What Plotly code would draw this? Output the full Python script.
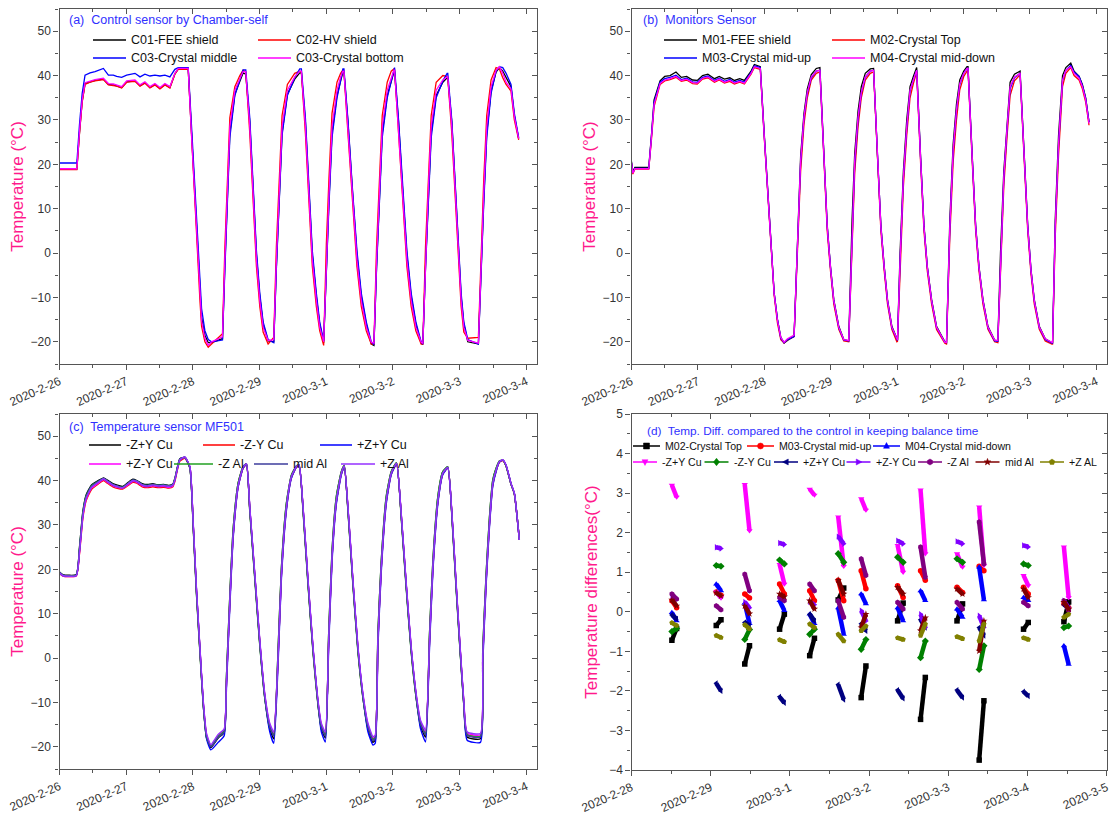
import math
import pandas as pd
import plotly.graph_objects as go

W, H = 1110, 816
FONT = "Liberation Sans, Arial, Helvetica, sans-serif"
AX = "#555555"
PINK = "#ff1a8c"
TBLUE = "#3030ff"

BASE_A = pd.Timestamp("2020-02-26")
BASE_D = pd.Timestamp("2020-02-28")

# ---------------- panel (a): control sensors (days after 2020-02-26) ----------------
A_T = [0.00, 0.26, 0.30, 0.34, 0.383, 0.458, 0.533, 0.658, 0.733, 0.807, 0.857, 0.932,
       1.007, 1.132, 1.207, 1.281, 1.356, 1.431, 1.506, 1.581, 1.655, 1.73, 1.78, 1.93,
       1.98, 2.03, 2.08, 2.105, 2.13, 2.18, 2.23, 2.28, 2.444,
       2.479, 2.514, 2.554, 2.629, 2.704, 2.753, 2.793,
       2.853, 2.903, 2.953, 3.003, 3.053, 3.128, 3.213,
       3.252, 3.292, 3.337, 3.417, 3.527, 3.602, 3.627,
       3.687, 3.736, 3.791, 3.851, 3.901, 3.961,
       4.001, 4.041, 4.086, 4.161, 4.215, 4.250, 4.265,
       4.325, 4.390, 4.460, 4.525, 4.600, 4.675, 4.715,
       4.754, 4.794, 4.839, 4.914, 4.974, 5.014, 5.024,
       5.084, 5.144, 5.209, 5.273, 5.343, 5.423, 5.448,
       5.488, 5.528, 5.573, 5.648, 5.748, 5.812, 5.822,
       5.882, 5.932, 5.982, 6.022, 6.062, 6.122, 6.281,
       6.321, 6.361, 6.406, 6.471, 6.546, 6.596, 6.646, 6.696, 6.770, 6.820, 6.885]

A_C01 = [18.9, 18.9, 27.2, 34.2, 38.2, 38.6, 38.9, 39.2, 38.0, 37.9, 37.7, 37.3,
         38.6, 38.8, 37.7, 38.4, 37.3, 38.0, 37.1, 38.0, 37.3, 40.4, 41.5, 41.5,
         27.0, 13.0, -1.0, -8.0, -14.5, -18.5, -20.2, -20.2, -19.3,
         -3.0, 11.5, 27.0, 35.8, 38.8, 40.6, 40.3,
         29.5, 14.5, -0.5, -9.8, -16.0, -19.8, -20.0,
         -3.0, 12.0, 27.0, 35.8, 39.2, 40.6, 40.6,
         29.5, 14.5, -0.5, -9.8, -16.0, -20.2,
         -3.0, 12.0, 27.0, 35.5, 38.8, 40.8, 40.8,
         29.5, 14.5, -0.5, -9.8, -16.0, -20.5, -20.8,
         -3.0, 12.0, 27.0, 35.5, 39.0, 40.8, 40.8,
         29.5, 14.5, -0.5, -9.8, -16.0, -20.3, -20.6,
         -3.0, 12.0, 27.0, 35.5, 38.5, 39.5, 39.5,
         29.5, 14.5, -0.5, -9.8, -16.0, -20.0, -20.5,
         -3.0, 12.0, 27.0, 36.5, 40.8, 41.8, 41.0, 39.5, 37.5, 31.0, 25.8]

A_C02 = [18.8, 18.8, 27.0, 34.0, 38.0, 38.5, 38.8, 39.1, 37.9, 37.8, 37.6, 37.2,
         38.5, 38.7, 37.6, 38.3, 37.2, 37.9, 37.0, 37.9, 37.2, 40.3, 41.4, 41.4,
         25.5, 11.0, -3.0, -10.5, -16.5, -20.0, -21.2, -20.5, -18.2,
         1.0, 16.0, 30.5, 37.5, 40.0, 41.2, 40.8,
         27.0, 12.0, -3.0, -12.0, -17.8, -20.5, -19.0,
         1.5, 16.5, 31.0, 38.0, 40.5, 41.0, 40.8,
         27.0, 12.0, -3.0, -12.0, -17.5, -20.8,
         2.0, 17.0, 31.5, 38.5, 40.5, 41.3, 41.0,
         27.0, 12.0, -3.0, -12.0, -17.5, -20.5, -20.5,
         1.5, 16.5, 31.0, 38.5, 41.0, 41.5, 41.3,
         27.0, 12.0, -3.0, -12.0, -17.5, -20.5, -20.5,
         1.5, 16.5, 31.0, 38.5, 40.0, 39.8, 39.6,
         27.0, 12.0, -3.0, -12.0, -17.8, -19.2, -19.0,
         1.5, 16.5, 31.0, 39.0, 41.8, 41.5, 39.5, 38.0, 36.5, 30.0, 25.5]

A_C03M = [20.3, 20.3, 29.0, 36.0, 40.1, 40.6, 40.9, 41.6, 40.1, 40.1, 39.8, 39.6,
          40.1, 40.5, 39.7, 40.3, 39.9, 40.1, 39.9, 40.1, 39.7, 41.4, 41.8, 41.8,
          28.5, 15.0, 1.0, -6.0, -12.5, -17.5, -19.5, -20.0, -19.6,
          -4.0, 10.5, 26.0, 35.5, 38.8, 41.3, 41.3,
          30.5, 15.5, 0.5, -9.0, -15.5, -19.5, -20.2,
          -3.5, 11.0, 26.5, 35.5, 39.5, 41.5, 41.5,
          30.5, 15.5, 0.5, -9.0, -15.5, -19.8,
          -3.5, 11.0, 26.0, 35.0, 38.8, 41.5, 41.5,
          30.0, 15.0, 0.5, -9.0, -15.5, -20.0, -20.6,
          -3.5, 11.0, 26.0, 35.0, 38.8, 41.8, 41.8,
          30.0, 15.0, 0.5, -9.0, -15.5, -20.0, -20.5,
          -3.5, 11.0, 26.0, 35.0, 38.8, 40.5, 40.5,
          30.0, 15.0, 0.5, -9.0, -15.5, -19.5, -20.5,
          -3.5, 11.0, 26.0, 36.0, 41.0, 42.0, 41.8, 40.5, 38.0, 31.5, 26.0]

A_C03B = [19.0, 19.0, 27.5, 34.5, 38.4, 38.8, 39.1, 39.4, 38.2, 38.1, 37.9, 37.5,
          38.8, 39.0, 37.9, 38.6, 37.5, 38.2, 37.3, 38.2, 37.5, 40.5, 41.6, 41.6,
          26.3, 12.1, -2.1, -9.2, -15.2, -19.2, -20.8, -20.0, -18.9,
          -1.6, 13.4, 28.5, 36.7, 39.4, 40.9, 40.9,
          28.5, 13.4, -1.6, -10.7, -16.7, -19.7, -19.5,
          -1.6, 13.4, 28.5, 36.7, 39.7, 41.0, 41.0,
          28.5, 13.4, -1.6, -10.7, -16.7, -20.0,
          -1.6, 13.4, 28.5, 36.7, 39.7, 41.0, 41.0,
          28.5, 13.4, -1.6, -10.7, -16.7, -20.1, -20.3,
          -1.6, 13.4, 28.5, 36.7, 39.7, 41.2, 41.2,
          28.5, 13.4, -1.6, -10.7, -16.7, -20.1, -20.3,
          -1.6, 13.4, 28.5, 36.7, 39.0, 39.8, 39.8,
          28.5, 13.4, -1.6, -10.7, -16.7, -19.7, -20.3,
          -1.6, 13.4, 28.5, 37.5, 41.2, 42.0, 40.5, 38.5, 37.0, 30.7, 25.8]

# ---------------- panel (b): monitor sensors ----------------
B_T = [0.00, 0.02, 0.05, 0.26, 0.30, 0.34, 0.43, 0.50, 0.58, 0.67, 0.75, 0.83, 0.92,
       0.99, 1.07, 1.15, 1.25, 1.32, 1.40, 1.48, 1.55, 1.63, 1.70, 1.80, 1.85,
       1.939, 1.999, 2.073, 2.123, 2.148, 2.198, 2.248, 2.298, 2.348, 2.448,
       2.508, 2.547, 2.597, 2.647, 2.707, 2.782, 2.837,
       2.897, 2.947, 2.996, 3.046, 3.121, 3.196, 3.271,
       3.321, 3.361, 3.411, 3.460, 3.520, 3.595, 3.645,
       3.705, 3.755, 3.805, 3.855, 3.920, 3.995,
       4.005, 4.044, 4.094, 4.144, 4.194, 4.244, 4.284, 4.294,
       4.354, 4.404, 4.454, 4.519, 4.593, 4.718, 4.743,
       4.793, 4.843, 4.893, 4.943, 5.003, 5.052, 5.067,
       5.132, 5.182, 5.232, 5.292, 5.367, 5.467, 5.516,
       5.556, 5.606, 5.656, 5.701, 5.766, 5.841, 5.851,
       5.916, 5.966, 6.015, 6.065, 6.140, 6.230, 6.330,
       6.340, 6.380, 6.430, 6.490, 6.540, 6.614, 6.664, 6.739, 6.789, 6.839, 6.889]

B_M01 = [20.6, 18.3, 19.3, 19.3, 26.5, 34.5, 38.8, 39.8, 40.0, 40.8, 39.6, 39.8, 39.0,
         38.9, 40.0, 40.3, 39.3, 39.8, 39.2, 39.5, 38.9, 39.3, 38.9, 41.0, 42.5,
         42.0, 26.8, 7.8, -5.0, -9.0, -15.0, -19.0, -20.3, -19.7, -18.8,
         7.0, 22.0, 31.5, 37.0, 40.2, 41.6, 41.8,
         21.5, 6.3, -3.0, -10.5, -16.5, -19.5, -19.8,
         7.5, 22.5, 32.0, 37.5, 40.5, 41.5, 41.6,
         21.5, 6.3, -3.0, -10.5, -16.5, -19.6,
         -19.6, 0.0, 18.5, 30.0, 37.5, 39.8, 41.8, 41.8,
         21.5, 6.3, -3.0, -10.5, -16.5, -20.0, -20.2,
         7.5, 24.5, 33.5, 39.0, 41.0, 42.0, 42.0,
         21.5, 6.3, -3.0, -10.5, -16.5, -19.6, -19.8,
         0.0, 18.5, 30.0, 38.5, 40.3, 41.0, 41.0,
         21.5, 6.3, -3.7, -10.5, -16.5, -19.3, -20.2,
         -20.2, 7.5, 26.5, 40.0, 41.8, 42.8, 41.0, 39.8, 38.0, 35.0, 29.5]

B_M02 = [20.2, 17.8, 18.9, 18.9, 25.5, 33.0, 38.0, 38.8, 39.1, 39.6, 38.7, 39.0, 38.2,
         38.1, 39.2, 39.5, 38.5, 39.0, 38.3, 38.7, 38.1, 38.5, 38.1, 40.3, 41.8,
         41.4, 26.0, 7.0, -5.5, -9.5, -15.8, -19.5, -20.3, -19.5, -18.8,
         3.5, 18.5, 29.0, 35.0, 39.0, 40.5, 40.8,
         20.0, 5.0, -4.0, -11.5, -17.2, -19.8, -20.0,
         3.0, 18.0, 28.5, 35.0, 39.0, 40.5, 40.8,
         20.0, 5.0, -4.0, -11.5, -17.2, -20.0,
         -19.9, -3.5, 15.0, 26.5, 35.0, 38.2, 40.5, 40.8,
         20.0, 5.0, -4.0, -11.5, -17.2, -20.3, -20.5,
         3.5, 20.5, 30.0, 36.8, 39.8, 41.0, 41.2,
         20.0, 5.0, -4.0, -11.5, -17.2, -20.0, -20.2,
         -3.5, 15.0, 26.5, 35.5, 38.8, 40.0, 40.2,
         20.0, 5.0, -4.7, -11.5, -17.2, -19.8, -20.5,
         -20.5, 3.5, 22.0, 37.5, 40.5, 41.8, 40.0, 39.0, 37.0, 34.0, 28.8]

B_M03 = [20.4, 18.1, 19.1, 19.1, 26.2, 34.0, 38.5, 39.3, 39.6, 40.1, 39.1, 39.4, 38.6,
         38.5, 39.6, 39.9, 38.9, 39.4, 38.7, 39.1, 38.5, 38.9, 38.5, 40.7, 42.2,
         41.8, 26.5, 7.5, -5.2, -9.0, -15.0, -19.2, -20.2, -19.5, -18.8,
         5.5, 20.5, 30.5, 36.0, 39.5, 41.0, 41.2,
         21.0, 6.0, -3.2, -10.8, -16.8, -19.6, -19.8,
         5.0, 20.0, 30.0, 36.0, 39.6, 41.0, 41.2,
         21.0, 6.0, -3.2, -10.8, -16.8, -19.7,
         -19.7, -2.0, 16.8, 28.0, 36.5, 39.0, 41.2, 41.2,
         21.0, 6.0, -3.2, -10.8, -16.8, -20.1, -20.2,
         5.5, 22.8, 32.0, 38.0, 40.5, 41.6, 41.6,
         21.0, 6.0, -3.2, -10.8, -16.8, -19.8, -19.9,
         -2.0, 16.8, 28.0, 37.0, 39.5, 40.5, 40.5,
         21.0, 6.0, -3.9, -10.8, -16.8, -19.5, -20.3,
         -20.3, 5.5, 24.2, 38.8, 41.2, 42.3, 40.8, 39.8, 37.8, 34.8, 29.5]

B_M04 = [20.3, 18.0, 19.0, 19.0, 26.0, 33.5, 38.2, 39.0, 39.3, 39.8, 38.9, 39.2, 38.4,
         38.3, 39.4, 39.7, 38.7, 39.2, 38.5, 38.9, 38.3, 38.7, 38.3, 40.5, 42.0,
         41.6, 26.3, 7.3, -5.4, -9.2, -15.2, -19.0, -20.1, -19.3, -18.5,
         5.9, 20.9, 30.7, 36.2, 39.7, 41.0, 41.2,
         20.9, 5.9, -3.2, -10.7, -16.7, -19.5, -19.7,
         5.9, 20.9, 30.7, 36.2, 39.7, 41.0, 41.2,
         20.9, 5.9, -3.2, -10.7, -16.7, -19.6,
         -19.6, -1.6, 17.2, 28.5, 36.7, 39.0, 41.2, 41.2,
         20.9, 5.9, -3.2, -10.7, -16.7, -20.1, -20.1,
         5.9, 23.2, 32.2, 38.2, 40.5, 41.6, 41.6,
         20.9, 5.9, -3.2, -10.7, -16.7, -19.6, -19.7,
         -1.6, 17.2, 28.5, 37.5, 39.7, 40.5, 40.5,
         20.9, 5.9, -3.9, -10.7, -16.7, -19.3, -20.1,
         -20.1, 5.9, 24.7, 39.0, 41.2, 42.0, 40.5, 39.4, 37.5, 34.5, 29.2]

# ---------------- panel (c): MF501 sensors ----------------
C_T = [0.00, 0.05, 0.25, 0.30, 0.35, 0.40, 0.48, 0.58, 0.66, 0.72, 0.80, 0.88, 0.95,
       1.03, 1.10, 1.16, 1.24, 1.32, 1.40, 1.48, 1.56, 1.64, 1.70, 1.73, 1.805, 1.88,
       1.955, 2.005, 2.055, 2.105, 2.155, 2.205, 2.270, 2.379, 2.469,
       2.504, 2.554, 2.604, 2.679, 2.753, 2.803,
       2.853, 2.928, 3.003, 3.078, 3.153, 3.212,
       3.277, 3.327, 3.402, 3.477, 3.552, 3.592,
       3.652, 3.727, 3.801, 3.876, 3.926, 3.986,
       4.036, 4.086, 4.151, 4.226, 4.270,
       4.325, 4.400, 4.475, 4.550, 4.625, 4.700, 4.734,
       4.774, 4.824, 4.899, 4.974, 5.054,
       5.124, 5.199, 5.273, 5.348, 5.413, 5.488,
       5.548, 5.598, 5.673, 5.747, 5.822,
       5.887, 5.947, 6.007, 6.062, 6.112, 6.311,
       6.346, 6.396, 6.446, 6.496, 6.546, 6.596, 6.646, 6.696, 6.770, 6.820, 6.895]

C_mZpY_Cu = [19.4, 18.8, 18.8, 25.0, 33.0, 36.8, 39.0, 40.0, 40.6, 40.1, 39.3, 38.9, 38.7,
             39.6, 40.3, 40.0, 39.3, 39.1, 39.3, 39.0, 39.1, 38.9, 39.2, 40.5, 44.9, 45.2,
             42.8, 29.5, 14.3, 1.6, -10.5, -18.0, -20.2, -18.0, -16.8,
             -4.0, 14.0, 29.0, 39.5, 43.2, 43.8,
             33.3, 18.1, 3.1, -9.0, -16.0, -18.2,
             1.5, 20.1, 34.8, 41.2, 43.3, 43.5,
             33.3, 16.6, 1.6, -10.5, -16.0, -18.0,
             5.3, 23.9, 36.3, 42.0, 43.4,
             33.3, 16.6, 1.6, -9.0, -16.0, -19.0, -18.5,
             5.3, 21.6, 36.3, 42.0, 44.0,
             31.8, 15.9, 1.6, -9.0, -15.3, -17.8,
             5.3, 21.6, 36.3, 42.0, 43.1,
             31.1, 15.9, 1.6, -10.5, -17.8, -18.2,
             1.5, 18.6, 31.4, 40.0, 42.7, 44.4, 44.6, 43.3, 39.2, 37.0, 26.8]

C_mZmY_Cu = [19.0, 18.5, 18.5, 23.5, 31.5, 35.5, 38.0, 39.2, 40.0, 39.4, 38.6, 38.2, 38.1,
             38.9, 39.6, 39.4, 38.6, 38.4, 38.6, 38.4, 38.5, 38.3, 38.6, 39.8, 44.4, 45.0,
             43.0, 30.0, 14.8, 2.1, -10.0, -17.5, -19.9, -17.6, -16.4,
             -5.5, 12.5, 27.5, 38.7, 42.8, 43.6,
             33.7, 18.6, 3.6, -8.5, -15.3, -17.3,
             -0.2, 18.6, 33.7, 40.7, 43.0, 43.3,
             33.7, 17.1, 2.1, -10.0, -15.3, -17.2,
             3.6, 22.4, 35.2, 41.5, 43.1,
             33.7, 17.1, 2.1, -8.5, -15.3, -18.3, -17.9,
             3.6, 20.1, 35.2, 41.5, 43.7,
             32.2, 16.4, 2.1, -8.5, -14.6, -17.0,
             3.6, 20.1, 35.2, 41.5, 42.8,
             31.5, 16.4, 2.1, -10.0, -17.2, -17.6,
             -0.2, 17.1, 30.0, 39.0, 42.2, 44.1, 44.5, 43.3, 39.2, 37.0, 26.6]

C_pZpY_Cu = [19.3, 18.7, 18.7, 24.5, 32.5, 36.5, 38.8, 39.8, 40.5, 39.9, 39.1, 38.7, 38.5,
             39.4, 40.1, 39.9, 39.1, 38.9, 39.1, 38.9, 39.0, 38.8, 39.1, 40.3, 44.8, 45.2,
             43.0, 30.0, 14.8, 2.0, -10.2, -18.2, -20.7, -19.0, -17.5,
             -6.5, 11.5, 27.0, 38.5, 42.8, 43.7,
             33.7, 18.5, 3.4, -8.8, -16.6, -19.2,
             -1.5, 17.8, 33.2, 40.5, 43.0, 43.4,
             33.7, 17.0, 1.9, -10.3, -16.6, -18.9,
             2.3, 21.6, 34.7, 41.3, 43.1,
             33.7, 17.0, 1.9, -8.8, -16.6, -19.6, -19.2,
             2.3, 19.3, 34.7, 41.3, 43.7,
             32.2, 16.3, 1.9, -8.8, -15.9, -18.9,
             2.3, 19.3, 34.7, 41.3, 42.8,
             31.5, 16.3, 1.9, -10.3, -18.5, -19.0,
             -1.5, 16.3, 29.3, 38.7, 42.0, 44.2, 44.6, 43.4, 39.3, 37.1, 26.6]

C_pZmY_Cu = [19.1, 18.5, 18.5, 23.8, 31.8, 35.8, 38.3, 39.4, 40.2, 39.6, 38.8, 38.4, 38.3,
             39.1, 39.8, 39.6, 38.8, 38.6, 38.8, 38.6, 38.7, 38.5, 38.8, 40.0, 44.6, 45.2,
             43.1, 30.2, 15.0, 2.3, -9.8, -17.3, -19.7, -17.4, -16.2,
             -5.2, 12.8, 27.8, 38.8, 42.9, 43.7,
             33.9, 18.8, 3.8, -8.3, -15.0, -17.0,
             0.1, 18.9, 33.9, 40.8, 43.1, 43.4,
             33.9, 17.3, 2.3, -9.8, -15.0, -17.0,
             3.9, 22.7, 35.4, 41.6, 43.2,
             33.9, 17.3, 2.3, -8.3, -15.0, -18.0, -17.6,
             3.9, 20.4, 35.4, 41.6, 43.8,
             32.4, 16.6, 2.3, -8.3, -14.3, -16.6,
             3.9, 20.4, 35.4, 41.6, 42.9,
             31.7, 16.6, 2.3, -9.8, -16.9, -17.3,
             0.1, 17.4, 30.2, 39.2, 42.3, 44.2, 44.6, 43.4, 39.3, 37.1, 26.6]

C_mZ_Al = [19.3, 18.7, 18.7, 24.8, 32.8, 36.5, 38.8, 39.8, 40.5, 39.9, 39.1, 38.7, 38.5,
           39.4, 40.1, 39.9, 39.1, 38.9, 39.1, 38.9, 39.0, 38.8, 39.1, 40.4, 44.8, 45.2,
           42.8, 29.3, 14.0, 1.3, -10.6, -17.8, -19.9, -17.6, -16.4,
           -3.8, 14.2, 29.2, 39.5, 43.1, 43.8,
           33.0, 17.8, 2.8, -9.0, -15.5, -17.3,
           1.7, 20.3, 35.0, 41.2, 43.3, 43.5,
           33.0, 16.3, 1.3, -10.5, -15.5, -17.3,
           5.5, 24.1, 36.5, 42.0, 43.4,
           33.0, 16.3, 1.3, -9.0, -15.5, -18.3, -17.9,
           5.5, 21.8, 36.5, 42.0, 44.0,
           31.5, 15.6, 1.3, -9.0, -14.8, -17.0,
           5.5, 21.8, 36.5, 42.0, 43.1,
           30.8, 15.6, 1.3, -10.5, -17.2, -17.6,
           1.7, 18.8, 31.6, 40.1, 42.8, 44.4, 44.6, 43.3, 39.2, 37.0, 26.8]

C_mid_Al = [19.2, 18.6, 18.6, 24.2, 32.2, 36.2, 38.6, 39.7, 40.4, 39.8, 39.0, 38.6, 38.4,
            39.3, 40.0, 39.8, 39.0, 38.8, 39.0, 38.8, 38.9, 38.7, 39.0, 40.2, 44.7, 45.3,
            43.0, 30.0, 15.0, 2.3, -10.0, -17.6, -20.0, -17.9, -16.7,
            -5.5, 12.5, 27.6, 38.8, 42.9, 43.7,
            33.8, 18.7, 3.7, -8.5, -15.5, -17.6,
            -0.3, 18.6, 33.7, 40.7, 43.1, 43.4,
            33.8, 17.2, 2.2, -10.0, -15.5, -17.6,
            3.5, 22.4, 35.2, 41.5, 43.2,
            33.8, 17.2, 2.2, -8.5, -15.5, -18.6, -18.1,
            3.5, 20.1, 35.2, 41.5, 43.8,
            32.3, 16.5, 2.2, -8.5, -14.8, -17.3,
            3.5, 20.1, 35.2, 41.5, 42.9,
            31.6, 16.5, 2.2, -10.0, -17.4, -17.8,
            -0.3, 17.1, 30.0, 39.0, 42.2, 44.2, 44.6, 43.4, 39.3, 37.1, 26.6]

C_pZ_Al = [19.2, 18.6, 18.6, 24.0, 32.0, 36.0, 38.5, 39.6, 40.4, 39.8, 39.0, 38.6, 38.4,
           39.3, 40.0, 39.8, 39.0, 38.8, 39.0, 38.8, 38.9, 38.7, 39.0, 40.2, 44.7, 45.3,
           43.2, 30.4, 15.3, 2.6, -9.5, -17.0, -19.5, -17.2, -16.0,
           -5.0, 13.0, 28.0, 39.0, 43.0, 43.8,
           34.1, 19.1, 4.1, -8.0, -14.7, -16.6,
           0.3, 19.1, 34.1, 40.9, 43.2, 43.5,
           34.1, 17.6, 2.6, -9.5, -14.7, -16.6,
           4.1, 22.9, 35.6, 41.7, 43.3,
           34.1, 17.6, 2.6, -8.0, -14.7, -17.7, -17.4,
           4.1, 20.6, 35.6, 41.7, 43.9,
           32.6, 16.9, 2.6, -8.0, -14.0, -16.2,
           4.1, 20.6, 35.6, 41.7, 43.0,
           31.9, 16.9, 2.6, -9.5, -16.6, -17.0,
           0.3, 17.6, 30.4, 39.4, 42.4, 44.3, 44.7, 43.5, 39.4, 37.2, 26.6]

# ---------------- panel (d): differences in balance windows (days after 2020-02-28) ----------------
D_START = [0.51, 1.07, 1.43, 1.87, 2.25, 2.61, 2.90, 3.36, 3.65, 4.11, 4.39, 4.95, 5.46]
D_END = [0.57, 1.13, 1.49, 1.93, 2.31, 2.68, 2.96, 3.43, 3.71, 4.18, 4.45, 5.01, 5.52]

D_M02_S = [-0.72, -0.35, -1.32, -0.44, -1.11, 0.30, -2.17, -0.23, -2.72, -0.23, -3.75, -0.44, -0.25]
D_M02_E = [-0.42, -0.20, -0.86, -0.06, -0.67, 0.60, -1.37, 0.22, -1.66, 0.20, -2.25, -0.27, 0.25]
D_M03_S = [0.28, 0.50, 0.45, 0.70, 0.53, 0.80, 1.04, 0.66, 1.04, 0.62, 1.15, 0.62, 0.20]
D_M03_E = [0.10, 0.42, 0.35, 0.45, 0.28, 0.28, 0.58, 0.36, 0.80, 0.49, 1.04, 0.45, 0.10]
D_M04_S = [-0.02, 0.70, 0.22, 0.28, -0.06, 0.10, 0.45, 0.10, 0.53, 0.07, 1.13, 0.36, -0.86]
D_M04_E = [-0.23, 0.53, -0.30, 0.03, -0.30, -0.57, 0.20, -0.23, 0.28, -0.14, 0.30, 0.28, -1.33]
D_mZpY_S = [3.20, 0.50, 3.22, 1.20, 3.10, 2.40, 2.86, 1.68, 3.08, 1.47, 2.65, 0.92, 1.64]
D_mZpY_E = [2.90, 0.35, 2.05, 0.70, 2.95, 1.15, 2.57, 1.00, 1.47, 1.13, 1.17, 0.66, 0.36]
D_mZmY_S = [-0.50, 1.17, -0.70, 1.31, -0.57, 1.47, -0.95, 1.38, -1.16, 1.34, -1.46, 1.21, -0.40]
D_mZmY_E = [-0.42, 1.15, -0.45, 1.21, -0.44, 1.25, -0.70, 1.25, -0.74, 1.25, -0.86, 1.17, -0.36]
D_pZpY_S = [-0.08, -1.81, -0.27, -2.15, -0.06, -1.84, -0.30, -1.98, -0.20, -1.98, -0.40, -2.02, 0.18]
D_pZpY_E = [-0.18, -2.00, -0.35, -2.30, -0.23, -2.22, -0.48, -2.19, -0.40, -2.17, -0.60, -2.13, 0.10]
D_pZmY_S = [0.38, 1.63, 0.25, 1.74, 0.25, 1.90, 0.03, 1.80, -0.06, 1.78, -0.10, 1.68, 0.28]
D_pZmY_E = [0.32, 1.60, 0.10, 1.70, 0.18, 1.72, -0.23, 1.72, -0.40, 1.72, -0.40, 1.64, 0.10]
D_mZAl_S = [0.45, 0.15, 0.95, 0.36, 0.70, 0.28, 1.34, 0.24, 1.64, 0.24, 2.27, 0.24, 0.28]
D_mZAl_E = [0.32, 0.05, 0.53, 0.28, 0.53, -0.14, 0.92, 0.07, 0.87, 0.07, 1.21, 0.15, 0.03]
D_midAl_S = [0.30, 0.48, 0.15, 0.45, 0.28, 0.80, -0.40, 0.62, -0.48, 0.58, -0.99, 0.58, 0.24]
D_midAl_E = [0.15, 0.40, -0.05, 0.38, 0.07, 0.45, -0.06, 0.45, -0.15, 0.45, -0.23, 0.36, 0.07]
D_pZAl_S = [-0.28, -0.60, -0.33, -0.71, -0.31, -0.57, -0.48, -0.66, -0.60, -0.63, -0.74, -0.66, -0.14]
D_pZAl_E = [-0.35, -0.65, -0.43, -0.76, -0.40, -0.74, -0.36, -0.70, -0.31, -0.68, -0.31, -0.70, -0.06]

# ---------------- layout geometry (pixels) ----------------
PA = dict(x0=59.5, x1=537.0, y0=9.0, y1=364.0)
PB = dict(x0=631.5, x1=1107.0, y0=9.0, y1=364.0)
PC = dict(x0=59.5, x1=537.0, y0=414.0, y1=769.0)
PD = dict(x0=631.5, x1=1107.0, y0=414.0, y1=770.0)


def fx(px):
    return px / W


def fy(py):
    return 1 - py / H


def xdom(p):
    return [fx(p["x0"]), fx(p["x1"])]


def ydom(p):
    return [fy(p["y1"]), fy(p["y0"])]


fig = go.Figure()


def add_lines(T, base, series, xa, ya, width=1.3, shape="linear"):
    x = [base + pd.Timedelta(days=d) for d in T]
    for name, vals, color in series:
        assert len(vals) == len(T), (name, len(vals), len(T))
        line = dict(color=color, width=width, shape=shape)
        if shape == "spline":
            line["smoothing"] = 0.5
        fig.add_trace(go.Scatter(x=x, y=vals, mode="lines", name=name, line=line,
                                 xaxis=xa, yaxis=ya, showlegend=False, hoverinfo="skip"))


A_SERIES = [("C01-FEE shield", A_C01, "#000000"),
            ("C02-HV shield", A_C02, "#ff0000"),
            ("C03-Crystal middle", A_C03M, "#0000ff"),
            ("C03-Crystal bottom", A_C03B, "#ff00ff")]
B_SERIES = [("M01-FEE shield", B_M01, "#000000"),
            ("M02-Crystal Top", B_M02, "#ff0000"),
            ("M03-Crystal mid-up", B_M03, "#0000ff"),
            ("M04-Crystal mid-down", B_M04, "#ff00ff")]
C_SERIES = [("-Z+Y Cu", C_mZpY_Cu, "#000000"),
            ("-Z-Y Cu", C_mZmY_Cu, "#ff0000"),
            ("+Z+Y Cu", C_pZpY_Cu, "#0000ff"),
            ("+Z-Y Cu", C_pZmY_Cu, "#ff00ff"),
            ("-Z Al", C_mZ_Al, "#22a022"),
            ("mid Al", C_mid_Al, "#3c3c9c"),
            ("+Z Al", C_pZ_Al, "#9430ff")]
D_SERIES = [("M02-Crystal Top", D_M02_S, D_M02_E, "#000000", "square"),
            ("M03-Crystal mid-up", D_M03_S, D_M03_E, "#ff0000", "circle"),
            ("M04-Crystal mid-down", D_M04_S, D_M04_E, "#0000ff", "triangle-up"),
            ("-Z+Y Cu", D_mZpY_S, D_mZpY_E, "#ff00ff", "triangle-down"),
            ("-Z-Y Cu", D_mZmY_S, D_mZmY_E, "#008000", "diamond"),
            ("+Z+Y Cu", D_pZpY_S, D_pZpY_E, "#000080", "triangle-left"),
            ("+Z-Y Cu", D_pZmY_S, D_pZmY_E, "#8000ff", "triangle-right"),
            ("-Z Al", D_mZAl_S, D_mZAl_E, "#800080", "hexagon"),
            ("mid Al", D_midAl_S, D_midAl_E, "#800000", "star"),
            ("+Z AL", D_pZAl_S, D_pZAl_E, "#808000", "pentagon")]

add_lines(A_T, BASE_A, A_SERIES, "x", "y", width=1.3)
add_lines(B_T, BASE_A, B_SERIES, "x2", "y2", width=1.3)
add_lines(C_T, BASE_A, C_SERIES, "x3", "y3", width=1.4, shape="spline")

for name, s, e, color, sym in D_SERIES:
    xs, ys = [], []
    for t0, t1, v0, v1 in zip(D_START, D_END, s, e):
        xs += [BASE_D + pd.Timedelta(days=t0), BASE_D + pd.Timedelta(days=t1), None]
        ys += [v0, v1, None]
    fig.add_trace(go.Scatter(x=xs, y=ys, mode="lines+markers", name=name,
                             line=dict(color=color, width=4.5),
                             marker=dict(symbol=sym, size=5.5, color=color),
                             connectgaps=False, xaxis="x4", yaxis="y4",
                             showlegend=False, hoverinfo="skip"))

# dummy traces so the mirrored (inside-tick) top/right axes render
for xo, yo in [("x5", "y"), ("x", "y5"), ("x6", "y2"), ("x2", "y6"),
               ("x7", "y3"), ("x3", "y7"), ("x8", "y4"), ("x4", "y8")]:
    fig.add_trace(go.Scatter(x=[None], y=[None], xaxis=xo, yaxis=yo,
                             showlegend=False, hoverinfo="skip"))

RANGE_ABC = ["2020-02-26 00:00:00", "2020-03-04 03:50:00"]
RANGE_D = ["2020-02-28 00:00:00", "2020-03-05 00:06:00"]
DAY = 86400000
TICKFONT = dict(family=FONT, size=12, color="#333333")


def xdate(p, anchor, rng, tick0):
    return dict(domain=xdom(p), anchor=anchor, type="date", range=rng, tick0=tick0,
                dtick=DAY, tickformat="%Y-%-m-%-d", tickangle=-24, ticks="outside",
                ticklen=5, tickwidth=1, tickcolor=AX, showline=True, linecolor=AX,
                linewidth=1.3, mirror=True, showgrid=False, zeroline=False,
                automargin=False, ticklabeloverflow="allow", tickfont=TICKFONT,
                minor=dict(dtick=DAY / 2, ticks="outside", ticklen=3, tickcolor=AX,
                           showgrid=False))


def xtop(overlay, anchor, rng, tick0):
    return dict(overlaying=overlay, side="top", anchor=anchor, type="date", range=rng,
                tick0=tick0, dtick=DAY, ticks="inside", ticklen=5, tickcolor=AX,
                showticklabels=False, showline=False, showgrid=False, zeroline=False,
                automargin=False,
                minor=dict(dtick=DAY / 2, ticks="inside", ticklen=3, tickcolor=AX,
                           showgrid=False))


def yax(p, anchor, rng, dtick, title, standoff):
    return dict(domain=ydom(p), anchor=anchor, range=rng, dtick=dtick, ticks="outside",
                ticklen=5, tickwidth=1, tickcolor=AX, showline=True, linecolor=AX,
                linewidth=1.3, mirror=True, showgrid=False, zeroline=False,
                automargin=False, tickfont=TICKFONT,
                minor=dict(dtick=dtick / 2, ticks="outside", ticklen=3, tickcolor=AX,
                           showgrid=False),
                title=dict(text=title, font=dict(family=FONT, size=17, color=PINK),
                           standoff=standoff))


def yright(overlay, anchor, rng, dtick):
    return dict(overlaying=overlay, side="right", anchor=anchor, range=rng, dtick=dtick,
                ticks="inside", ticklen=5, tickcolor=AX, showticklabels=False,
                showline=False, showgrid=False, zeroline=False, automargin=False,
                minor=dict(dtick=dtick / 2, ticks="inside", ticklen=3, tickcolor=AX,
                           showgrid=False))


YR = [-25, 55]
YRD = [-4, 5]
TITLE_T = "Temperature (°C)"
TITLE_D = "Temperature differences(°C)"

layout = dict(
    width=W, height=H, margin=dict(l=0, r=0, t=0, b=0, autoexpand=False),
    paper_bgcolor="white", plot_bgcolor="white", showlegend=False,
    font=dict(family=FONT),
    xaxis=xdate(PA, "y", RANGE_ABC, "2020-02-26"),
    yaxis=yax(PA, "x", YR, 10, TITLE_T, 2),
    xaxis2=xdate(PB, "y2", RANGE_ABC, "2020-02-26"),
    yaxis2=yax(PB, "x2", YR, 10, TITLE_T, 2),
    xaxis3=xdate(PC, "y3", RANGE_ABC, "2020-02-26"),
    yaxis3=yax(PC, "x3", YR, 10, TITLE_T, 2),
    xaxis4=xdate(PD, "y4", RANGE_D, "2020-02-28"),
    yaxis4=yax(PD, "x4", YRD, 1, TITLE_D, 7),
    xaxis5=xtop("x", "y", RANGE_ABC, "2020-02-26"),
    yaxis5=yright("y", "x", YR, 10),
    xaxis6=xtop("x2", "y2", RANGE_ABC, "2020-02-26"),
    yaxis6=yright("y2", "x2", YR, 10),
    xaxis7=xtop("x3", "y3", RANGE_ABC, "2020-02-26"),
    yaxis7=yright("y3", "x3", YR, 10),
    xaxis8=xtop("x4", "y4", RANGE_D, "2020-02-28"),
    yaxis8=yright("y4", "x4", YRD, 1),
)
fig.update_layout(**layout)

# ---------------- panel titles and legend keys ----------------
shapes = []
annotations = []


def label(x, y, text, size, color):
    annotations.append(dict(xref="paper", yref="paper", x=fx(x), y=fy(y), text=text,
                            showarrow=False, xanchor="left", yanchor="middle",
                            font=dict(family=FONT, size=size, color=color)))


def sym_shape(kind, cx, cy, r, color):
    if kind == "circle":
        return dict(type="circle", xref="paper", yref="paper", x0=fx(cx - r), x1=fx(cx + r),
                    y0=fy(cy + r), y1=fy(cy - r), fillcolor=color,
                    line=dict(color=color, width=0.5))
    if kind == "square":
        pts = [(-r, -r), (r, -r), (r, r), (-r, r)]
    elif kind == "triangle-up":
        pts = [(0, -1.15 * r), (r, 0.75 * r), (-r, 0.75 * r)]
    elif kind == "triangle-down":
        pts = [(-r, -0.75 * r), (r, -0.75 * r), (0, 1.15 * r)]
    elif kind == "triangle-left":
        pts = [(-1.15 * r, 0), (0.75 * r, -r), (0.75 * r, r)]
    elif kind == "triangle-right":
        pts = [(1.15 * r, 0), (-0.75 * r, -r), (-0.75 * r, r)]
    elif kind == "diamond":
        pts = [(0, -1.25 * r), (r, 0), (0, 1.25 * r), (-r, 0)]
    elif kind == "hexagon":
        pts = [(r * math.cos(math.radians(30 + 60 * k)), r * math.sin(math.radians(30 + 60 * k)))
               for k in range(6)]
    elif kind == "pentagon":
        pts = [(r * math.sin(math.radians(72 * k)), -r * math.cos(math.radians(72 * k)))
               for k in range(5)]
    else:  # star
        pts = []
        for k in range(10):
            rr = 1.2 * r if k % 2 == 0 else 0.5 * r
            a = math.radians(36 * k)
            pts.append((rr * math.sin(a), -rr * math.cos(a)))
    path = "M " + " L ".join(f"{fx(cx + dx):.5f},{fy(cy + dy):.5f}" for dx, dy in pts) + " Z"
    return dict(type="path", xref="paper", yref="paper", path=path, fillcolor=color,
                line=dict(color=color, width=0.5))


def key(x, y, color, text, size, length, symbol=None, gap=3, lw=1.5):
    shapes.append(dict(type="line", xref="paper", yref="paper", x0=fx(x), x1=fx(x + length),
                       y0=fy(y), y1=fy(y), line=dict(color=color, width=lw)))
    if symbol:
        shapes.append(sym_shape(symbol, x + length / 2, y, 3.0, color))
    label(x + length + gap, y, text, size, "#111111")


LEG = 12.5
# (a)
label(67, 20, "(a)  Control sensor by Chamber-self", 12.5, TBLUE)
key(93, 40, "#000000", "C01-FEE shield", LEG, 33)
key(258, 40, "#ff0000", "C02-HV shield", LEG, 33)
key(93, 58, "#0000ff", "C03-Crystal middle", LEG, 33)
key(258, 58, "#ff00ff", "C03-Crystal bottom", LEG, 33)
# (b)
label(641, 20, "(b)  Monitors Sensor", 12.5, TBLUE)
key(664, 40, "#000000", "M01-FEE shield", LEG, 33)
key(832, 40, "#ff0000", "M02-Crystal Top", LEG, 33)
key(664, 58, "#0000ff", "M03-Crystal mid-up", LEG, 33)
key(832, 58, "#ff00ff", "M04-Crystal mid-down", LEG, 33)
# (c)
label(67, 427, "(c)  Temperature sensor MF501", 12.5, TBLUE)
key(89, 445, "#000000", "-Z+Y Cu", LEG, 32)
key(203, 445, "#ff0000", "-Z-Y Cu", LEG, 32)
key(320, 445, "#0000ff", "+Z+Y Cu", LEG, 32)
key(89, 464, "#ff00ff", "+Z-Y Cu", LEG, 32)
key(174, 464, "#22a022", "-Z Al", LEG, 39)
key(254, 464, "#3c3c9c", "mid Al", LEG, 34)
key(341, 464, "#9430ff", "+Z Al", LEG, 34)
# (d)
DLEG = 10.6
label(645, 431, "(d)  Temp. Diff. compared to the control in keeping balance time", 11.8, TBLUE)
key(633, 446, "#000000", "M02-Crystal Top", DLEG, 27, "square")
key(747, 446, "#ff0000", "M03-Crystal mid-up", DLEG, 27, "circle")
key(873, 446, "#0000ff", "M04-Crystal mid-down", DLEG, 27, "triangle-up")
D_KEY_X = [633, 704.5, 774, 846.5, 918, 975.5, 1040]
for kx, (name, _s, _e, color, sym) in zip(D_KEY_X, D_SERIES[3:]):
    key(kx, 462, color, name, DLEG, 24, sym)

fig.update_layout(shapes=shapes, annotations=annotations)
fig.write_html("out.html")
